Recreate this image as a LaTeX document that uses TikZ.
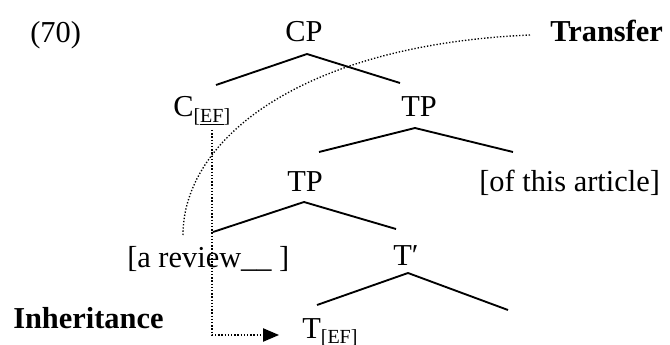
\documentclass[tikz,border=0pt]{standalone}
\usepackage{fontspec}
\setmainfont{Liberation Serif}
\usetikzlibrary{arrows.meta}
\newcommand{\featsub}{\raisebox{-3.8pt}{\fontsize{15}{15}\selectfont[\underline{EF}]}}
\tikzset{
  lbl/.style={anchor=base west, inner sep=0pt, font=\fontsize{22.8}{27}\selectfont},
  head/.style={lbl, font=\fontsize{22.8}{27}\selectfont\bfseries},
  branch/.style={line width=1.4pt},
  path dots/.style={line width=1pt, dash pattern=on 1pt off 1.4pt},
}
\begin{document}
\begin{tikzpicture}[x=0.75pt, y=-0.75pt]
  \useasboundingbox (0,0) rectangle (670,345);

  % labels of the tree
  \node[lbl] (num)      at (30,43)   {(70)};
  \node[lbl] (cp)       at (285,42)  {CP};
  \node[lbl] (c)        at (173,117) {C\featsub};
  \node[lbl] (tpa)      at (401,117) {TP};
  \node[lbl] (tpb)      at (287,192) {TP};
  \node[lbl] (ofart)    at (479,192) {[of this article]};
  \node[lbl] (rev)      at (127,267) {[a review\_\_ ]};
  \node[lbl] (tbar)     at (393,265) {T′};
  \node[lbl] (t)        at (302,338) {T\featsub};
  \node[head] (transfer) at (550,42)  {Transfer};
  \node[head] (inherit)  at (13,328)  {Inheritance};

  % branch points
  \coordinate (cp-top)   at (307,54);
  \coordinate (cp-l)     at (216,85);
  \coordinate (cp-r)     at (400,83);
  \coordinate (tpa-top)  at (415,128);
  \coordinate (tpa-l)    at (319,152);
  \coordinate (tpa-r)    at (513,152);
  \coordinate (tpb-top)  at (304,202);
  \coordinate (tpb-l)    at (213,232);
  \coordinate (tpb-r)    at (396,229);
  \coordinate (tbar-top) at (408,273);
  \coordinate (tbar-l)   at (317,305);
  \coordinate (tbar-r)   at (508,310);

  \draw[branch] (cp-l) -- (cp-top) -- (cp-r);
  \draw[branch] (tpa-l) -- (tpa-top) -- (tpa-r);
  \draw[branch] (tpb-l) -- (tpb-top) -- (tpb-r);
  \draw[branch] (tbar-l) -- (tbar-top) -- (tbar-r);

  % Transfer: dotted arc from the moved phrase up to the label
  \coordinate (arc-start) at (183,235);
  \coordinate (arc-end)   at (530,35);
  \draw[path dots] (arc-start) .. controls (183,140) and (300,45) .. (arc-end);

  % Inheritance: dotted path from C down to T
  \coordinate (inh-start) at (212,130);
  \coordinate (inh-end)   at (279,335);
  \draw[path dots, -{Triangle[length=12pt, width=10pt]}] (inh-start) |- (inh-end);
\end{tikzpicture}
\end{document}
